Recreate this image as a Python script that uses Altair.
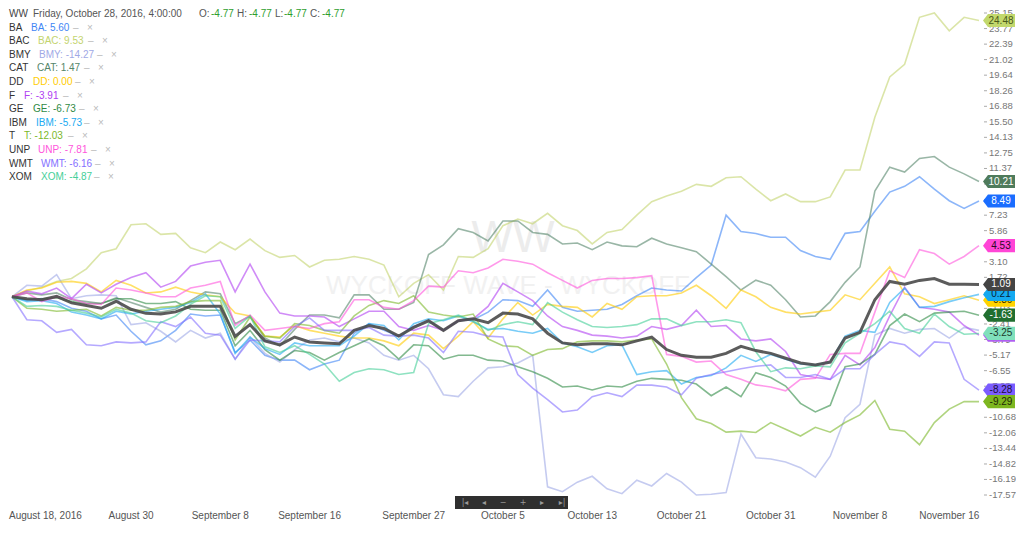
import altair as alt
import pandas as pd

FONT = "Liberation Sans"

# ---------------- data (percent change since Aug 18, 2016) ----------------
names = ["BA", "BAC", "BMY", "CAT", "DD", "F", "GE", "IBM", "T", "UNP", "WMT", "XOM"]

WW = [0, -0.17, -0.26, 0.03, -0.54, -0.77, -1.02, -0.40, -1.11, -1.47,
      -1.53, -1.34, -0.85, -0.85, -0.85, -3.51, -2.47, -3.91, -4.26, -3.57,
      -4.00, -4.09, -4.17, -2.98, -2.55, -2.81, -3.49, -2.72, -2.13, -2.98,
      -2.13, -1.96, -2.30, -1.45, -1.53, -1.96, -3.23, -4.09, -4.26, -4.17,
      -4.17, -4.26, -3.91, -3.57, -4.68, -5.19, -5.36, -5.36, -5.02, -4.40,
      -4.77, -5.02, -5.45, -5.87, -6.04, -5.79, -3.66, -3.15, -0.26, 1.36,
      1.11, 1.45, 1.62, 1.11, 1.11, 1.09]

BA = [0, -0.34, -0.17, -0.43, -1.02, -1.28, -1.96, -1.62, -3.06, -4.26,
      -3.91, -2.98, -1.53, -1.70, -1.62, -4.94, -3.83, -5.19, -5.62, -5.62,
      -6.47, -5.96, -5.62, -3.23, -2.38, -2.98, -3.49, -2.64, -2.13, -2.98,
      -2.13, -2.04, -1.36, -0.26, -0.34, -0.85, 0.60, -0.94, -1.28, -1.19,
      -1.11, -0.68, 0.09, 0.77, 0.60, 0.51, 1.70, 2.81, 7.23, 5.79,
      5.60, 5.28, 5.28, 4.09, 3.57, 3.32, 5.62, 5.79, 7.57, 9.28,
      9.79, 10.64, 9.53, 8.51, 7.83, 8.49]

BAC = [0, 0.51, 0.85, 1.36, 1.62, 2.47, 3.91, 4.26, 6.38, 6.47,
       5.53, 5.62, 4.34, 3.91, 4.85, 4.17, 5.11, 4.09, 3.49, 3.66,
       2.64, 3.23, 3.32, 3.57, 3.32, 2.81, 0.00, 1.19, 1.96, 0.60,
       3.57, 3.49, 4.26, 6.30, 6.89, 6.47, 7.40, 6.30, 5.87, 4.68,
       5.70, 5.96, 7.23, 8.43, 8.94, 9.36, 9.96, 9.79, 10.55, 10.64,
       9.53, 8.51, 9.11, 8.43, 8.43, 8.85, 11.23, 11.23, 15.91, 19.49,
       20.60, 24.77, 25.15, 23.57, 24.77, 24.48]

BMY = [0, 1.02, 0.94, 1.96, -0.17, 0.09, 0.17, 0.09, -2.47, -2.30,
       -3.06, -4.00, -2.98, -3.66, -3.23, -5.53, -3.57, -5.02, -5.79, -4.68,
       -3.83, -3.66, -4.00, -3.66, -4.09, -5.19, -5.62, -5.19, -6.38, -8.68,
       -8.85, -7.49, -6.30, -6.21, -5.87, -5.19, -16.85, -17.28, -16.43, -15.91,
       -17.02, -17.45, -16.26, -16.77, -15.66, -16.43, -17.57, -17.50, -17.36, -12.17,
       -14.27, -14.38, -14.64, -15.15, -16.00, -14.13, -10.72, -9.53, -3.40, -2.81,
       -3.23, -2.89, -2.81, -3.66, -2.72, -2.98]

CAT = [0, 0.34, 0.17, 0.34, -0.26, -0.43, -0.60, -0.09, -0.51, -0.94,
       -1.36, -1.11, -0.34, 0.43, 0.26, -2.38, -1.70, -3.66, -4.34, -2.89,
       -1.62, -1.62, -1.87, 0.17, 0.17, -1.11, -1.11, -0.51, 3.74, 4.60,
       6.04, 5.70, 4.94, 6.72, 6.72, 5.70, 5.53, 4.68, 4.77, 4.17,
       4.85, 4.51, 4.43, 5.19, 4.68, 4.34, 4.00, 2.89, 1.79, 0.60,
       1.47, 1.02, -0.26, -1.79, -1.70, -0.43, 1.28, 2.64, 9.36, 11.49,
       11.06, 12.26, 12.43, 11.49, 10.89, 10.21]

DD = [0, 0.60, 0.77, 1.28, 1.36, 1.19, 0.43, 1.45, 1.02, 0.34,
      0.43, 0.85, 0.43, 0.17, 0.00, -1.45, -1.70, -3.49, -3.57, -2.55,
      -2.98, -3.23, -3.49, -3.66, -3.66, -3.91, -4.34, -3.23, -3.40, -4.60,
      -3.49, -2.21, -3.66, -1.96, -0.51, -1.62, -0.68, -0.85, -0.94, -1.79,
      -0.60, -1.11, 0.00, 0.09, 0.09, 0.34, 1.02, 0.09, -1.02, 0.60,
      0.00, -0.94, -1.36, -1.53, -1.36, -1.19, 0.17, -0.26, 1.19, 2.64,
      0.26, 0.00, -0.60, -0.26, 0.09, -0.30]

F = [0, 0.51, 0.26, 0.77, -0.17, 1.11, 0.34, 1.11, 1.70, 2.13,
     0.85, 1.36, 2.72, 3.06, 3.23, 0.43, 2.89, 0.43, -1.45, -1.70,
     -1.70, -1.79, -2.64, -1.96, -1.28, -1.28, -2.64, -2.98, -2.55, -2.98,
     -2.13, -1.96, -0.85, 1.19, 0.43, -0.34, -1.70, -2.64, -2.98, -3.40,
     -3.49, -3.66, -3.49, -2.64, -2.89, -2.55, -1.19, -2.64, -2.55, -3.74,
     -3.91, -3.74, -4.85, -6.89, -7.15, -7.32, -5.19, -6.04, -4.51, -1.70,
     0.85, -0.94, -1.11, -1.36, -2.55, -3.40]

GE = [0, -0.26, -0.17, -0.09, -0.43, -0.60, -0.60, -0.17, -0.17, -0.60,
      -0.60, -0.43, -1.11, -1.19, -1.19, -4.34, -2.98, -4.68, -5.62, -4.77,
      -4.94, -5.62, -4.94, -4.34, -3.74, -4.34, -5.53, -4.26, -4.34, -5.53,
      -5.19, -5.19, -5.62, -5.70, -6.21, -6.64, -7.23, -8.00, -7.91, -8.26,
      -7.91, -8.00, -7.49, -7.23, -7.32, -7.40, -7.74, -8.77, -8.00, -8.85,
      -6.73, -7.15, -7.91, -9.45, -10.21, -9.62, -6.21, -5.96, -5.11, -2.55,
      -1.53, -2.21, -1.45, -1.36, -1.28, -1.63]

IBM = [0, -0.43, -0.34, -0.60, -1.36, -1.62, -1.96, -1.28, -1.53, -1.28,
       -1.11, -0.94, -0.51, 0.26, -1.53, -5.02, -3.57, -4.60, -5.11, -4.09,
       -4.34, -4.34, -4.34, -3.49, -2.38, -2.55, -3.83, -2.38, -1.96, -2.13,
       -1.70, -2.21, -2.89, -2.81, -3.06, -3.23, -2.81, -4.09, -4.43, -4.94,
       -4.34, -4.26, -6.89, -6.64, -6.55, -7.74, -7.15, -6.98, -6.30, -5.19,
       -5.73, -5.11, -5.53, -5.96, -6.04, -5.79, -3.49, -2.98, -3.15, -0.51,
       0.77, -0.94, -0.85, -0.43, -0.09, 0.21]

T = [0, -1.02, -1.11, -1.28, -1.19, -1.11, -1.70, -0.94, -1.19, -1.19,
     -0.94, -0.85, -0.43, -0.34, -0.34, -3.83, -1.79, -3.49, -3.66, -2.38,
     -2.55, -2.98, -3.23, -1.70, -0.77, -0.34, -0.60, 0.09, -1.36, -1.62,
     -1.79, -1.53, -3.74, -4.34, -4.43, -5.19, -4.68, -4.60, -4.00, -3.91,
     -3.91, -4.00, -3.83, -3.74, -5.96, -8.94, -10.81, -11.23, -12.00, -11.91,
     -12.03, -11.15, -11.74, -12.34, -11.57, -12.00, -11.15, -10.47, -9.19, -11.74,
     -11.91, -13.11, -11.15, -9.96, -9.28, -9.29]

UNP = [0, 0.34, -0.43, 0.00, -0.17, -0.60, -0.68, 0.77, 0.60, 0.34,
       0.00, 0.00, 0.77, 1.02, 1.36, -2.55, -1.62, -2.98, -2.81, -2.64,
       -2.81, -2.38, -2.21, -0.26, -0.26, -0.94, -1.11, -0.34, 0.94, 0.85,
       2.30, 2.13, 2.55, 3.32, 3.15, 2.89, 2.13, 1.45, 0.77, 1.45,
       1.62, 1.62, 1.70, 1.87, -5.11, -5.28, -5.79, -5.70, -6.89, -7.32,
       -7.81, -8.00, -8.34, -7.32, -7.23, -5.11, -5.02, -5.02, -1.36, 2.30,
       1.70, 4.17, 3.83, 2.89, 3.57, 4.53]

WMT = [0, -2.04, -2.13, -3.15, -2.89, -4.26, -4.34, -4.00, -4.09, -4.00,
       -2.21, -2.64, -1.79, -3.23, -3.40, -5.53, -3.83, -3.91, -4.00, -2.64,
       -1.87, -2.98, -2.98, -2.98, -2.72, -3.40, -3.49, -3.40, -3.66, -4.94,
       -3.06, -3.15, -3.49, -3.57, -6.89, -8.09, -9.11, -10.21, -10.04, -8.85,
       -8.51, -8.85, -7.83, -7.83, -8.00, -8.68, -7.23, -6.89, -6.64, -6.38,
       -6.16, -6.04, -7.15, -7.15, -6.89, -7.32, -6.38, -6.38, -5.11, -4.00,
       -4.26, -5.28, -4.00, -4.09, -7.32, -8.28]

XOM = [0, -0.85, -0.77, -0.85, -1.19, -1.45, -1.79, -1.11, -1.45, -2.13,
       -2.30, -1.70, -0.68, 0.09, 0.00, -2.81, -1.70, -4.43, -4.94, -4.34,
       -5.11, -5.96, -7.49, -6.72, -6.38, -6.47, -6.89, -6.72, -2.38, -2.04,
       -1.62, -2.13, -2.98, -2.47, -2.21, -2.47, -0.51, -1.36, -2.04, -2.64,
       -2.72, -2.64, -2.47, -1.96, -1.96, -2.55, -2.21, -2.21, -2.04, -2.30,
       -4.87, -6.64, -6.30, -6.38, -6.13, -6.21, -4.09, -3.23, -2.38, -1.28,
       -2.81, -3.23, -1.53, -2.64, -3.32, -3.25]

tick_idx = [0, 8, 14, 20, 27, 33, 39, 45, 51, 57, 63]
tick_names = ["August 18, 2016", "August 30", "September 8", "September 16",
              "September 27", "October 5", "October 13", "October 21",
              "October 31", "November 8", "November 16"]
y_ticks = [25.15, 23.77, 22.39, 21.02, 19.64, 18.26, 16.88, 15.50, 14.13, 12.75,
           11.37, 9.99, 8.61, 7.23, 5.86, 4.48, 3.10, 1.72, 0.35, -1.03,
           -2.41, -3.79, -5.17, -6.55, -7.93, -9.30, -10.68, -12.06, -13.44,
           -14.82, -16.19, -17.57]
hover_index = 50
hover_label = "Friday, October 28, 2016, 4:00:00"

series = dict(zip(names, [BA, BAC, BMY, CAT, DD, F, GE, IBM, T, UNP, WMT, XOM]))

line_colors = {
    "BA": "#3f86f5", "BAC": "#c3d46e", "BMY": "#9fa9e6", "CAT": "#55866a",
    "DD": "#ffcc00", "F": "#b040f2", "GE": "#2f8a45", "IBM": "#20aaf2",
    "T": "#7cb82a", "UNP": "#ff55dc", "WMT": "#8470ff", "XOM": "#45cf98",
}

# ---------------- layout ----------------
W, H = 967, 482
OX, OY = 12, 13          # page position of plot origin


def px(x):
    return x - OX


def py(y):
    return y - OY


xscale = alt.Scale(domain=[0, len(WW) - 1], nice=False, zero=False)
yscale = alt.Scale(domain=[y_ticks[-1], y_ticks[0]], nice=False, zero=False)


def X(field="idx"):
    return alt.X(f"{field}:Q", scale=xscale, axis=None)


def Y(field="value"):
    return alt.Y(f"{field}:Q", scale=yscale, axis=None)


def PX():
    return alt.X("px:Q", scale=None, axis=None)


def PY():
    return alt.Y("py:Q", scale=None, axis=None)


rows = []
for name in names:
    for i, v in enumerate(series[name]):
        rows.append({"idx": i, "value": v, "series": name})
df = pd.DataFrame(rows)
ww_df = pd.DataFrame({"idx": list(range(len(WW))), "value": WW})

all_series = dict(series)
all_series["WW"] = WW
last_values = [s[-1] for s in all_series.values()]

layers = []

# watermark
wm = pd.DataFrame({
    "px": [px(513), px(508)], "py": [py(239), py(286)],
    "text": ["WW", "WYCKOFF WAVE - WYCKOFF"], "fs": [44, 26],
    "color": ["#ececec", "#f1f1f1"],
})
layers.append(alt.Chart(wm).mark_text(font=FONT, align="center", baseline="middle").encode(
    x=PX(), y=PY(), text="text:N", size=alt.Size("fs:Q", scale=None, legend=None),
    color=alt.Color("color:N", scale=None)))

# right axis: tick marks + labels (labels fully hidden by a value tag are skipped)
yt = pd.DataFrame({"value": y_ticks, "label": [f"{v:.2f}" for v in y_ticks]})
yt_vis = yt[[min(abs(v - lv) for lv in last_values) > 0.3 for v in y_ticks]]
layers.append(alt.Chart(yt).mark_rule(color="#aaaaaa", strokeWidth=1).encode(
    y=Y(), x=alt.value(px(984)), x2=alt.value(px(987))))
layers.append(alt.Chart(yt_vis).mark_text(font=FONT, fontSize=9.5, align="left", baseline="middle",
                                          color="#777777").encode(
    y=Y(), x=alt.value(px(989)), text="label:N"))

# bottom axis labels
xt = pd.DataFrame({"idx": tick_idx, "label": tick_names})
layers.append(alt.Chart(xt.iloc[:1]).mark_text(font=FONT, fontSize=10, align="left", baseline="middle",
                                               dx=-3, color="#555555").encode(
    x=X(), y=alt.value(py(516)), text="label:N"))
layers.append(alt.Chart(xt.iloc[1:]).mark_text(font=FONT, fontSize=10, align="center", baseline="middle",
                                               color="#555555").encode(
    x=X(), y=alt.value(py(516)), text="label:N"))

# stock lines
layers.append(alt.Chart(df).mark_line(strokeWidth=1.6, opacity=0.6).encode(
    x=X(), y=Y(),
    color=alt.Color("series:N", scale=alt.Scale(domain=names, range=[line_colors[n] for n in names]),
                    legend=None),
    detail="series:N"))

# WW index line
layers.append(alt.Chart(ww_df).mark_line(color="#4a4a4a", strokeWidth=3, opacity=0.9).encode(
    x=X(), y=Y()))

# last-value tags on the right
TAG_PATH = "M 0.25 0 L 0.56 -0.41 L 2.25 -0.41 L 2.25 0.41 L 0.56 0.41 Z"
tag_specs = [
    ("F", "#b060f0", "#ffffff"), ("DD", "#ffd400", "#3a3000"),
    ("IBM", "#14a9f0", "#06243a"), ("WW", "#444444", "#ffffff"),
    ("GE", "#216f30", "#ffffff"), ("XOM", "#80e0bb", "#1c3a2c"),
    ("WMT", "#7b5cff", "#1a103a"), ("T", "#7db620", "#1f2a06"),
    ("UNP", "#ff45d6", "#2a0a25"), ("BA", "#1a6dff", "#ffffff"),
    ("CAT", "#4f7b5c", "#ffffff"), ("BAC", "#c2d86c", "#4a5a1a"),
]
for name, fill, tcol in tag_specs:
    v = all_series[name][-1]
    d = pd.DataFrame({"idx": [len(WW) - 1], "value": [v], "label": [f"{v:.2f}"]})
    layers.append(alt.Chart(d).mark_point(shape=TAG_PATH, filled=True, size=1024, opacity=1,
                                          color=fill, strokeWidth=0).encode(x=X(), y=Y()))
    layers.append(alt.Chart(d).mark_text(align="center", baseline="middle", dx=22, fontSize=10,
                                         font=FONT, color=tcol).encode(x=X(), y=Y(), text="label:N"))

# header + legend texts
green = "#2e9e2e"
wwv = f"{WW[hover_index]:.2f}"
items = [
    (9, 14, "WW", "#444444"), (33, 14, hover_label, "#555555"),
    (199, 14, "O:", "#555555"), (211, 14, wwv, green),
    (237, 14, "H:", "#555555"), (249, 14, wwv, green),
    (275, 14, "L:", "#555555"), (284, 14, wwv, green),
    (310, 14, "C:", "#555555"), (322, 14, wwv, green),
]
label_x = [31, 38, 39, 37, 33, 24, 33, 36, 24, 38, 41, 41]
dash_x = [73, 88, 97, 84, 75, 63, 79, 84, 68, 91, 95, 94]
for k, name in enumerate(names):
    yy = 27.5 + 13.6 * k
    val = series[name][hover_index]
    items.append((9, yy, name, "#333333"))
    items.append((label_x[k], yy, f"{name}: {val:.2f}", line_colors[name]))
    items.append((dash_x[k], yy, "\u2013", "#bbbbbb"))
    items.append((dash_x[k] + 14, yy, "\u00d7", "#bbbbbb"))
leg = pd.DataFrame({
    "px": [px(a) for a, _, _, _ in items], "py": [py(b) for _, b, _, _ in items],
    "text": [t for _, _, t, _ in items], "color": [c for _, _, _, c in items],
})
layers.append(alt.Chart(leg).mark_text(font=FONT, fontSize=10, align="left", baseline="middle").encode(
    x=PX(), y=PY(), text="text:N", color=alt.Color("color:N", scale=None)))

# navigator bar
layers.append(alt.Chart(pd.DataFrame({"a": [0]})).mark_rect(color="#2f2f2f").encode(
    x=alt.value(px(455)), x2=alt.value(px(568)), y=alt.value(py(496)), y2=alt.value(py(509))))
nav = pd.DataFrame({
    "px": [px(x) for x in [465, 484, 503, 523, 542, 562]],
    "py": [py(502.5)] * 6,
    "text": ["|\u25c2", "\u25c2", "\u2212", "+", "\u25b8", "\u25b8|"],
    "color": ["#9a9a9a"] * 6,
})
layers.append(alt.Chart(nav).mark_text(font="DejaVu Sans", fontSize=8, align="center", baseline="middle").encode(
    x=PX(), y=PY(), text="text:N", color=alt.Color("color:N", scale=None)))

chart = alt.layer(*layers).properties(
    width=W, height=H,
    padding={"left": 4, "top": 5, "right": 37, "bottom": 29},
    autosize=alt.AutoSizeParams(type="none"),
    background="white",
).configure_view(stroke=None, strokeWidth=0)

chart.save("out.html", embed_options={"renderer": "svg", "actions": False})
